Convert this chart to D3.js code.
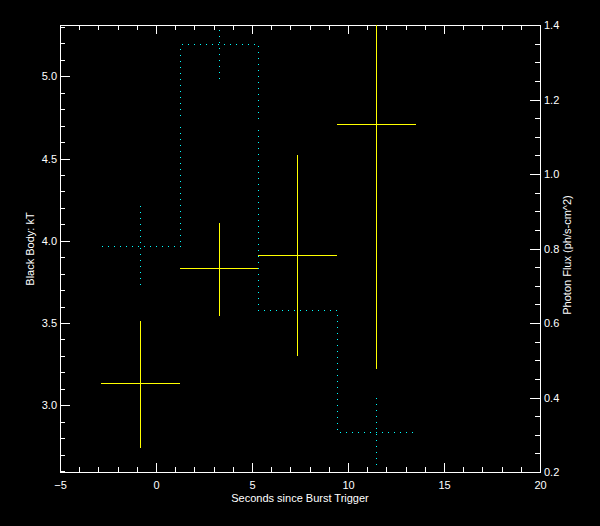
<!DOCTYPE html>
<html>
<head>
<meta charset="utf-8">
<script src="https://cdn.jsdelivr.net/npm/d3@7"></script>
<style>
  html, body { margin: 0; padding: 0; background: #000; }
  svg { display: block; }
</style>
</head>
<body>
<svg id="chart" width="600" height="526"></svg>
<script>
// ---- data ----
const binLo   = [-2.86, 1.27, 5.33, 9.45];
const binHi   = [1.27, 5.33, 9.45, 13.53];
const tMid    = [-0.80, 3.30, 7.36, 11.47];
const kT      = [3.13, 3.83, 3.91, 4.71];
const kTLo    = [2.74, 3.54, 3.30, 3.22];
const kTHi    = [3.51, 4.11, 4.52, 5.312];
const flux    = [0.805, 1.348, 0.633, 0.307];
const fluxLo  = [0.698, 1.241, null, 0.205];
const fluxHi  = [0.914, 1.386, null, 0.400];
const xTicks  = [-5, 0, 5, 10, 15, 20];
const kTTicks = [3.0, 3.5, 4.0, 4.5, 5.0];
const fTicks  = [0.2, 0.4, 0.6, 0.8, 1.0, 1.2, 1.4];

const W = 600, H = 526;
const L = 60, R = 540, T = 25, B = 472;
const FONT = "Liberation Sans, Arial, sans-serif";

const svg = d3.select("#chart");
svg.append("rect").attr("width", W).attr("height", H).attr("fill", "#000");

const x  = d3.scaleLinear().domain([-5, 20]).range([L, R]);
const yL = d3.scaleLinear().domain([2.594, 5.312]).range([B, T]);
const yR = d3.scaleLinear().domain([0.2, 1.4]).range([B, T]);
const c = v => Math.floor(v) + 0.5;

const clipId = "plotclip";
svg.append("clipPath").attr("id", clipId)
  .append("rect").attr("x", L).attr("y", T).attr("width", R - L + 1).attr("height", B - T + 1);

function styleAxis(g) {
  g.selectAll("path, line").attr("stroke", "#fff").attr("stroke-width", 1).attr("shape-rendering", "crispEdges");
  g.selectAll("text").attr("fill", "#fff").attr("font-family", FONT).attr("font-size", 11);
}

const xMinor = d3.range(-5, 20.001, 1);
const kTMinor = d3.range(2.6, 5.31, 0.1);
const fMinor = d3.range(0.2, 1.4001, 0.05);

// bottom axis
svg.append("g").attr("transform", `translate(0,${B})`)
  .call(d3.axisBottom(x).tickValues(xMinor).tickSize(-5).tickSizeOuter(0).tickFormat(""))
  .call(styleAxis);
svg.append("g").attr("transform", `translate(0,${B})`)
  .call(d3.axisBottom(x).tickValues(xTicks).tickSize(-9).tickSizeOuter(0).tickPadding(9).tickFormat(d3.format("d")))
  .call(styleAxis);
// top axis
svg.append("g").attr("transform", `translate(0,${T})`)
  .call(d3.axisTop(x).tickValues(xMinor).tickSize(-5).tickSizeOuter(0).tickFormat(""))
  .call(styleAxis);
svg.append("g").attr("transform", `translate(0,${T})`)
  .call(d3.axisTop(x).tickValues(xTicks).tickSize(-9).tickSizeOuter(0).tickFormat(""))
  .call(styleAxis);
// left axis
svg.append("g").attr("transform", `translate(${L},0)`)
  .call(d3.axisLeft(yL).tickValues(kTMinor).tickSize(-5).tickSizeOuter(0).tickFormat(""))
  .call(styleAxis);
svg.append("g").attr("transform", `translate(${L},0)`)
  .call(d3.axisLeft(yL).tickValues(kTTicks).tickSize(-10).tickSizeOuter(0).tickPadding(3).tickFormat(d3.format(".1f")))
  .call(styleAxis);
// right axis
svg.append("g").attr("transform", `translate(${R},0)`)
  .call(d3.axisRight(yR).tickValues(fMinor).tickSize(-5).tickSizeOuter(0).tickFormat(""))
  .call(styleAxis);
svg.append("g").attr("transform", `translate(${R},0)`)
  .call(d3.axisRight(yR).tickValues(fTicks).tickSize(-10).tickSizeOuter(0).tickPadding(4).tickFormat(d3.format(".1f")))
  .call(styleAxis);

// axis titles
svg.append("text").attr("x", 300).attr("y", 502).attr("text-anchor", "middle")
  .attr("fill", "#fff").attr("font-family", FONT).attr("font-size", 11)
  .text("Seconds since Burst Trigger");
svg.append("text").attr("transform", "translate(34,249) rotate(-90)").attr("text-anchor", "middle")
  .attr("fill", "#fff").attr("font-family", FONT).attr("font-size", 11)
  .text("Black Body: kT");
svg.append("text").attr("transform", "translate(571,255) rotate(-90)").attr("text-anchor", "middle")
  .attr("fill", "#fff").attr("font-family", FONT).attr("font-size", 11)
  .text("Photon Flux (ph/s-cm^2)");

const plot = svg.append("g").attr("clip-path", `url(#${clipId})`);

// flux histogram (dotted)
const stepPts = [];
flux.forEach((f, i) => { stepPts.push([binLo[i], f]); stepPts.push([binHi[i], f]); });
plot.append("path")
  .attr("d", d3.line().x(d => c(x(d[0]))).y(d => c(yR(d[1])))(stepPts))
  .attr("fill", "none").attr("stroke", "#00ffff").attr("stroke-width", 1)
  .attr("stroke-dasharray", "1,5").attr("shape-rendering", "crispEdges");
// flux error bars (dotted)
tMid.forEach((t, i) => {
  if (fluxLo[i] == null) return;
  plot.append("line")
    .attr("x1", c(x(t))).attr("x2", c(x(t)))
    .attr("y1", yR(fluxHi[i])).attr("y2", yR(fluxLo[i]))
    .attr("stroke", "#00ffff").attr("stroke-width", 1)
    .attr("stroke-dasharray", "1,5").attr("shape-rendering", "crispEdges");
});

// kT crosses
tMid.forEach((t, i) => {
  plot.append("line")
    .attr("x1", x(binLo[i])).attr("x2", x(binHi[i]))
    .attr("y1", c(yL(kT[i]))).attr("y2", c(yL(kT[i])))
    .attr("stroke", "#ffff00").attr("stroke-width", 1).attr("shape-rendering", "crispEdges");
  plot.append("line")
    .attr("x1", c(x(t))).attr("x2", c(x(t)))
    .attr("y1", yL(kTHi[i])).attr("y2", yL(kTLo[i]))
    .attr("stroke", "#ffff00").attr("stroke-width", 1).attr("shape-rendering", "crispEdges");
});
</script>
</body>
</html>
